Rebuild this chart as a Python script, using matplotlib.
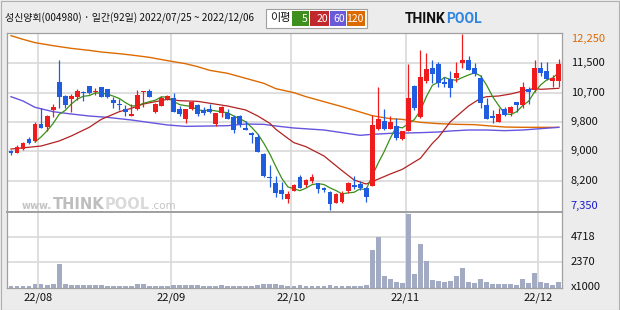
import numpy as np
import pandas as pd
import matplotlib
matplotlib.use("Agg")
import matplotlib.pyplot as plt
from matplotlib.patches import Rectangle

plt.rcParams['font.family'] = ['Noto Sans CJK KR', 'DejaVu Sans']

# ---------- data (daily, 2022/07/25 ~ 2022/12/06) ----------
opens = [8993, 8946, 9048, 9336, 9280, 9735, 9670, 10134, 10914, 10524,
         10450, 10505, 10635, 10793, 10626, 10765, 10710, 10413, 10301, 10162,
         9976, 10153, 10635, 10663, 10078, 10255, 10431, 10459, 10162, 9874,
         10153, 10273, 10134, 10162, 9744, 10041, 10041, 9930, 9967, 9642,
         9484, 9373, 8909, 8260, 8093, 7907, 7647, 7888, 8278, 8046,
         8167, 8093, 7963, 7851, 7554, 7564, 7870, 8046, 8083, 7972,
         8028, 9605, 9837, 9605, 9689, 9317, 9559, 10802, 9930, 10951,
         11294, 11415, 10923, 10988, 11034, 11452, 11526, 11303, 11025, 10273,
         9967, 9809, 10162, 10041, 10357, 10273, 10719, 10691, 11313, 11220,
         10951, 10951]
highs = [9020, 9160, 9253, 9373, 9800, 10199, 9995, 10301, 11526, 10552,
         10570, 10710, 10672, 10802, 10756, 10784, 10728, 10505, 10431, 10273,
         10301, 10691, 10663, 10719, 10320, 10524, 10552, 10617, 10245, 10171,
         10394, 10301, 10227, 10301, 10060, 10245, 10162, 10005, 9995, 9837,
         9522, 9466, 8928, 8603, 8297, 8139, 7888, 8065, 8315, 8204,
         8352, 8111, 8000, 7870, 7833, 7879, 8120, 8306, 8158, 8000,
         9995, 10765, 10162, 9967, 9902, 9559, 11415, 10830, 11805, 11712,
         11526, 11461, 11062, 11229, 11470, 12250, 11638, 11452, 11108, 10459,
         10134, 10181, 10208, 10245, 10366, 10923, 10784, 11526, 11461, 11461,
         11108, 11545]
lows = [8872, 8937, 9020, 9188, 9253, 9642, 9559, 9949, 10199, 10181,
        10088, 10413, 10394, 10580, 10552, 10496, 10477, 10199, 10134, 9976,
        9976, 10134, 10227, 10496, 10041, 10245, 10413, 10069, 9976, 9782,
        10134, 9967, 9995, 10041, 9689, 9949, 9874, 9503, 9670, 9577,
        9206, 8965, 8278, 7999, 7703, 7647, 7536, 7879, 7954, 7981,
        8093, 7833, 7861, 7341, 7545, 7554, 7814, 7926, 7907, 7582,
        8018, 9577, 9577, 9596, 9299, 9299, 9550, 10134, 9902, 10895,
        10877, 10784, 10784, 10505, 10923, 11294, 11238, 11090, 10181, 9874,
        9782, 9800, 9967, 9967, 10088, 10199, 10301, 10644, 11090, 10969,
        10765, 10784]
closes = [8937, 9104, 9206, 9225, 9744, 9642, 9967, 10208, 10505, 10283,
          10524, 10654, 10617, 10598, 10654, 10505, 10505, 10338, 10273, 10088,
          10023, 10552, 10663, 10505, 10301, 10477, 10524, 10088, 10032, 10153,
          10366, 10014, 10041, 10088, 10041, 10227, 9893, 9577, 9735, 9587,
          9447, 8974, 8297, 8241, 7833, 7796, 7796, 8046, 7972, 8185,
          8278, 7944, 7916, 7508, 7805, 7814, 8093, 8000, 7972, 7721,
          9717, 9884, 9596, 9809, 9345, 9550, 10459, 10181, 11062, 11276,
          11136, 10895, 10849, 10756, 11174, 11526, 11248, 11136, 10338, 9893,
          9921, 10023, 9995, 10208, 10283, 10784, 10635, 11313, 11155, 10988,
          11034, 11415]
volumes = [140, 140, 140, 140, 330, 330, 235, 330, 2207, 330,
           235, 235, 235, 235, 235, 235, 170, 170, 170, 170,
           170, 330, 330, 170, 170, 170, 170, 235, 235, 235,
           235, 235, 150, 150, 150, 235, 150, 150, 150, 150,
           150, 235, 330, 330, 330, 235, 150, 150, 235, 150,
           150, 150, 150, 235, 150, 150, 150, 150, 150, 235,
           3521, 4742, 1080, 798, 548, 485, 6934, 1268, 4085, 2489,
           704, 610, 548, 642, 1080, 1862, 516, 454, 798, 516,
           329, 329, 329, 329, 235, 798, 423, 1362, 516, 423,
           235, 516]  # x1000

# moving averages (20/60/120 at sample days)
ma20_idx = [0, 5, 8, 10, 13, 15, 18, 20, 22, 24, 26, 28, 31, 36, 39, 41, 43, 44, 46, 47,
            49, 52, 55, 57, 59, 60, 63, 65, 68, 70, 71, 73, 76, 78, 79, 81, 83, 85, 87, 88, 91]
ma20_val = [9048, 9131, 9271, 9410, 9652, 9874, 10088, 10181, 10301, 10366, 10431, 10394, 10375,
            10245, 10134, 9967, 9763, 9596, 9345, 9225, 9113, 8853, 8445, 8185, 8074, 8139, 8352,
            8482, 8789, 9206, 9373, 9809, 10245, 10459, 10505, 10524, 10580, 10663, 10738, 10710, 10738]
ma60_idx = [0, 2, 4, 7, 10, 13, 16, 20, 26, 29, 33, 36, 39, 42, 44, 47, 52, 55, 58, 60,
            63, 68, 71, 73, 76, 79, 82, 85, 88, 91]
ma60_val = [10505, 10385, 10208, 10088, 10023, 9967, 9930, 9856, 9717, 9679, 9689, 9698, 9744,
            9735, 9689, 9633, 9577, 9503, 9429, 9457, 9484, 9503, 9522, 9550, 9577, 9577, 9559,
            9577, 9615, 9652]
ma120_idx = [0, 2, 4, 7, 10, 13, 15, 18, 20, 23, 26, 29, 31, 33, 36, 39, 42, 44, 47, 49,
             52, 55, 58, 60, 63, 65, 68, 71, 74, 77, 79, 82, 85, 91]
ma120_val = [12204, 12102, 12009, 11925, 11851, 11795, 11749, 11702, 11665, 11600, 11508, 11424,
             11341, 11239, 11155, 11016, 10877, 10728, 10617, 10505, 10366, 10227, 10078, 9976,
             9893, 9874, 9791, 9754, 9735, 9726, 9698, 9661, 9652, 9652]

month_first_idx = [5, 27, 47, 66, 88]
month_labels = ["22/08", "22/09", "22/10", "22/11", "22/12"]
price_max, price_min = 12250, 7350
price_grid_labels = ["8,200", "9,000", "9,800", "10,700", "11,500"]
vol_grid = [2370, 4718]

# ---------- figure ----------
W, H = 620, 310
fig = plt.figure(figsize=(6.2, 3.1), dpi=100)
fig.patch.set_facecolor('#ececec')

def fx(px):
    return px / W

def fy(py):
    return 1 - py / H

left, right = 7.3, 562.3
top, sep, bot = 32.5, 212.3, 287.7
ax = fig.add_axes([fx(left), fy(sep), (right - left) / W, (sep - top) / H])
axv = fig.add_axes([fx(left), fy(bot), (right - left) / W, (bot - sep) / H], sharex=ax)

x = np.arange(len(closes))
o = np.array(opens); c = np.array(closes)
h = np.array(highs); l = np.array(lows)
up_col, dn_col = '#ee1c1c', '#1f5ce0'
cols = np.where(c >= o, up_col, dn_col)

# grids
step = (price_max - price_min) / 6
pgrid = [price_min + k * step for k in range(1, 6)]
for g in pgrid:
    ax.axhline(g, color='#d9d9d9', lw=1.2, zorder=0)
for g in vol_grid:
    axv.axhline(g, color='#d9d9d9', lw=1.2, zorder=0)
for m in month_first_idx:
    ax.axvline(m - 0.45, color='#d9d9d9', lw=1.2, zorder=0)
    axv.axvline(m - 0.45, color='#d9d9d9', lw=1.2, zorder=0)

# moving averages
ma5 = pd.Series(closes).rolling(5).mean()
ax.plot(ma120_idx, ma120_val, color='#dd6a00', lw=1.0, zorder=2)
ax.plot(ma60_idx, ma60_val, color='#6655dd', lw=1.0, zorder=2)
ax.plot(ma20_idx, ma20_val, color='#b22222', lw=0.9, zorder=2)
ax.plot(x, ma5, color='#3a8f1a', lw=0.9, zorder=2)

# candles
ax.vlines(x, l, h, colors=cols, lw=0.9, zorder=3)
body_h = np.maximum(np.abs(c - o), 30)
ax.bar(x, body_h, bottom=np.minimum(o, c), width=0.8, color=cols, lw=0, zorder=4)

# volume
axv.bar(x, volumes, width=0.8, color='#a3abc3', lw=0, zorder=2)

ax.set_xlim(-0.61, 91.58)
ax.set_ylim(7286, 12292)
axv.set_ylim(0, 7080)

for a in (ax, axv):
    a.set_facecolor('white')
    a.set_xticks([]); a.set_yticks([])
    for s in a.spines.values():
        s.set_color('#a0a0a0'); s.set_linewidth(0.9)
ax.spines['bottom'].set_linewidth(1.4)
axv.spines['top'].set_linewidth(1.4)

# right labels
ylab = ax.get_yaxis_transform()
ax.text(1.015, price_max - 150, "12,250", transform=ylab, fontsize=8, color='#dd6a00', va='center')
for g, t in zip(pgrid, price_grid_labels):
    ax.text(1.015, g, t, transform=ylab, fontsize=8, color='#111111', va='center')
ax.text(1.015, price_min + 100, "7,350", transform=ylab, fontsize=8, color='#1a1acc', va='center')
vlab = axv.get_yaxis_transform()
for g in vol_grid:
    axv.text(1.015, g, str(g), transform=vlab, fontsize=8, color='#111111', va='center')
axv.text(1.015, 60, "x1000", transform=vlab, fontsize=8, color='#111111', va='center')

# month labels
for m, t in zip(month_first_idx, month_labels):
    axv.text(m - 0.45, -0.13, t, transform=axv.get_xaxis_transform(), fontsize=8,
             ha='center', va='center', color='#111111')

# watermark: pieces laid end to end, in figure pixels
renderer = fig.canvas.get_renderer()
wm_x = 22
for txt, size, colr, wt in [("www.", 7, '#c4c4c4', 'bold'), ("THINK", 10.5, '#bdbdbd', 'bold'),
                            ("POOL", 10.5, '#dadada', 'bold'), (".com", 7.5, '#c4c4c4', 'normal')]:
    t = fig.text(fx(wm_x), fy(209), txt, fontsize=size, color=colr, fontweight=wt,
                 family='DejaVu Sans', va='baseline', zorder=0.5)
    bb = t.get_window_extent(renderer)
    wm_x += bb.width + 0.5

# header
fig.text(fx(5), fy(18), "성신양회(004980) · 일간(92일) 2022/07/25 ~ 2022/12/06",
         fontsize=7.2, va='center', color='#111111')
fig.patches.append(Rectangle((fx(266), fy(27.5)), (367 - 266) / W, 18 / H, transform=fig.transFigure,
                             facecolor='white', edgecolor='#a0a0a0', lw=0.8))
fig.text(fx(270), fy(18.5), "이평", fontsize=8, va='center', color='#111111')
leg = [("5", '#3f8f1f', 291.5, 308.5), ("20", '#c0282c', 310, 329),
       ("60", '#6a5ad8', 330, 346), ("120", '#dd6a00', 347, 364.5)]
for t, colr, x0, x1 in leg:
    fig.patches.append(Rectangle((fx(x0), fy(25.5)), (x1 - x0) / W, 14 / H, transform=fig.transFigure,
                                 facecolor=colr, edgecolor='none'))
    fig.text(fx(x1 - 1), fy(18.8), t, fontsize=7.5, color='white', ha='right', va='center')

# logo
fig.text(fx(405), fy(19), "THINK", fontsize=10, fontweight='bold', family='Roboto',
         color='#111111', va='center')
fig.text(fx(446), fy(19), "POOL", fontsize=10, fontweight='bold', family='Roboto',
         color='#2f86e0', va='center')

# outer frame
fig.patches.append(Rectangle((0.5 / W, 0.5 / H), 618.5 / W, 308.5 / H, transform=fig.transFigure,
                             facecolor='none', edgecolor='#b0b0b0', lw=0.8))

fig.savefig("out.png", dpi=100, facecolor=fig.get_facecolor())
